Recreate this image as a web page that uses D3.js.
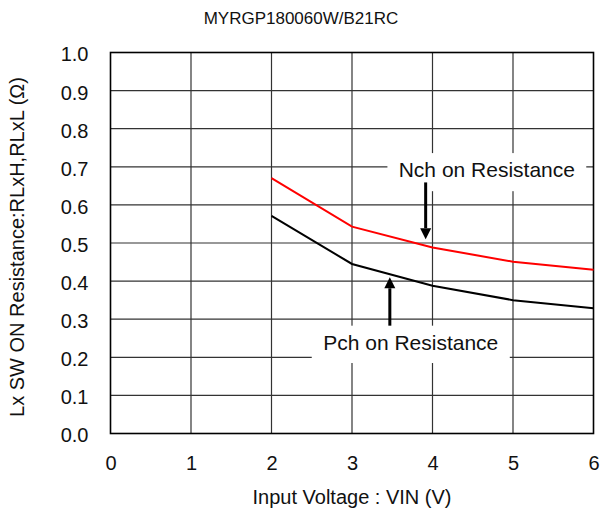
<!DOCTYPE html>
<html>
<head>
<meta charset="utf-8">
<script src="https://cdn.jsdelivr.net/npm/d3@7"></script>
<style>
  html, body { margin: 0; padding: 0; background: #fff; }
  svg { display: block; font-family: "Liberation Sans", Arial, sans-serif; }
</style>
</head>
<body>
<svg id="chart" width="601" height="521"></svg>
<script>
// ---- data ----
const title = "MYRGP180060W/B21RC";
const xLabel = "Input Voltage : VIN (V)";
const yLabel = "Lx SW ON Resistance:RLxH,RLxL (\u03A9)";
const vin = [2, 3, 4, 5, 6];
const nchOnRes = [0.670, 0.543, 0.488, 0.451, 0.430];
const pchOnRes = [0.571, 0.445, 0.388, 0.350, 0.329];
const xTicks = [0, 1, 2, 3, 4, 5, 6];
const yTicks = [0, 0.1, 0.2, 0.3, 0.4, 0.5, 0.6, 0.7, 0.8, 0.9, 1.0];
const nchLabel = "Nch on Resistance";
const pchLabel = "Pch on Resistance";

// ---- layout ----
const svg = d3.select("#chart");
const x = d3.scaleLinear().domain([0, 6]).range([110.5, 593.5]);
const y = d3.scaleLinear().domain([0, 1]).range([433.5, 52.5]);

// gridlines
const grid = svg.append("g");
grid.selectAll("line.v").data(xTicks.slice(1, -1)).enter().append("line")
  .attr("x1", d => x(d)).attr("x2", d => x(d))
  .attr("y1", y(0)).attr("y2", y(1))
  .attr("stroke", "#333").attr("stroke-width", 1.2);
grid.selectAll("line.h").data(yTicks.slice(1, -1)).enter().append("line")
  .attr("x1", x(0)).attr("x2", x(6))
  .attr("y1", d => y(d)).attr("y2", d => y(d))
  .attr("stroke", "#333").attr("stroke-width", 1.2);

// frame
svg.append("rect")
  .attr("x", x(0)).attr("y", y(1))
  .attr("width", x(6) - x(0)).attr("height", y(0) - y(1))
  .attr("fill", "none").attr("stroke", "#000").attr("stroke-width", 1.6);

// axes
const xAxis = svg.append("g").attr("transform", `translate(0,${y(0)})`)
  .call(d3.axisBottom(x).tickValues(xTicks).tickSize(0).tickPadding(22).tickFormat(d3.format("d")));
const yAxis = svg.append("g").attr("transform", `translate(${x(0)},0)`)
  .call(d3.axisLeft(y).tickValues(yTicks).tickSize(0).tickPadding(22).tickFormat(d3.format(".1f")));
[xAxis, yAxis].forEach(a => {
  a.select(".domain").remove();
  a.selectAll("text").attr("font-size", 20).attr("fill", "#111")
    .attr("font-family", "'Liberation Sans', Arial, sans-serif");
});
yAxis.selectAll("text").attr("dy", "0.42em");

// lines
const line = d3.line().x(d => x(d[0])).y(d => y(d[1]));
svg.append("path").datum(vin.map((v, i) => [v, nchOnRes[i]]))
  .attr("d", line).attr("fill", "none").attr("stroke", "#ff0000").attr("stroke-width", 2);
svg.append("path").datum(vin.map((v, i) => [v, pchOnRes[i]]))
  .attr("d", line).attr("fill", "none").attr("stroke", "#000").attr("stroke-width", 2);

// annotations
function arrow(xv, yTail, yTip, up) {
  const g = svg.append("g");
  const xp = x(xv), tail = y(yTail), tip = y(yTip);
  const headLen = 11, headW = 5.5;
  const base = up ? tip + headLen : tip - headLen;
  g.append("line").attr("x1", xp).attr("x2", xp).attr("y1", tail).attr("y2", base)
    .attr("stroke", "#000").attr("stroke-width", 3);
  g.append("path")
    .attr("d", `M${xp},${tip}L${xp - headW},${base}L${xp + headW},${base}Z`)
    .attr("fill", "#000");
}
function label(text, x0, x1, yTop, yBot, yBase) {
  svg.append("rect")
    .attr("x", x(x0)).attr("y", y(yTop))
    .attr("width", x(x1) - x(x0)).attr("height", y(yBot) - y(yTop))
    .attr("fill", "#fff");
  svg.append("text").attr("x", (x(x0) + x(x1)) / 2).attr("y", y(yBase))
    .attr("text-anchor", "middle").attr("font-size", 21).attr("fill", "#111")
    .text(text);
}
label(nchLabel, 3.44, 5.91, 0.736, 0.636, 0.673);
arrow(3.915, 0.659, 0.510, false);
label(pchLabel, 2.50, 4.96, 0.283, 0.185, 0.220);
arrow(3.47, 0.283, 0.410, true);

// titles
svg.append("text").attr("x", 301).attr("y", 24).attr("text-anchor", "middle")
  .attr("font-size", 17).attr("fill", "#111").text(title);
svg.append("text").attr("x", (x(0) + x(6)) / 2).attr("y", 504).attr("text-anchor", "middle")
  .attr("font-size", 20).attr("fill", "#111").text(xLabel);
svg.append("text")
  .attr("transform", `translate(24,${(y(0) + y(1)) / 2 + 4}) rotate(-90)`)
  .attr("text-anchor", "middle").attr("font-size", 20).attr("fill", "#111").text(yLabel);
</script>
</body>
</html>
